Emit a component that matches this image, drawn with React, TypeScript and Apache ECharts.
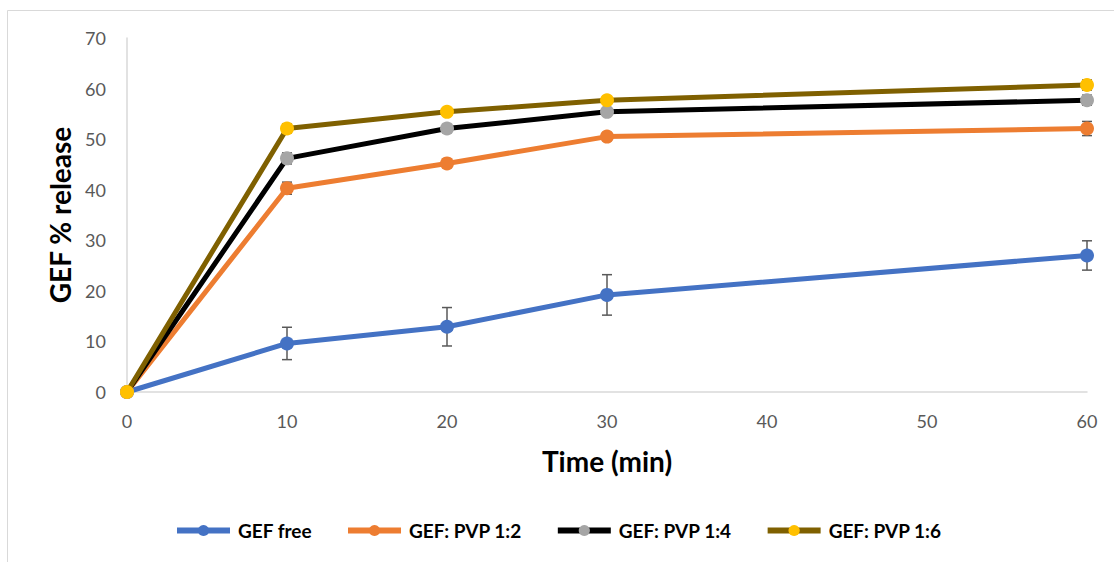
import React, { useEffect, useRef } from "react";
import * as echarts from "echarts";

const seriesNames = ["GEF free", "GEF: PVP 1:2", "GEF: PVP 1:4", "GEF: PVP 1:6"];
const timePoints = [0, 10, 20, 30, 60];
const gefFree = [0, 9.6, 12.9, 19.2, 27.0];
const gefFreeErr = [0, 3.2, 3.8, 4.0, 2.9];
const pvp12 = [0, 40.3, 45.2, 50.5, 52.1];
const pvp12Err = [0, 1.2, 0.8, 0.8, 1.4];
const pvp14 = [0, 46.2, 52.1, 55.4, 57.7];
const pvp14Err = [0, 1.1, 0.8, 0.7, 1.0];
const pvp16 = [0, 52.1, 55.4, 57.7, 60.7];
const pvp16Err = [0, 0.9, 0.7, 0.6, 1.0];

const lineColors = ["#4472C4", "#ED7D31", "#000000", "#7F6000"];
const markerColors = ["#4472C4", "#ED7D31", "#A5A5A5", "#FFC000"];

const FONT = "Lato, 'Open Sans', sans-serif";

export default function App() {
  const ref = useRef<HTMLDivElement>(null);

  useEffect(() => {
    if (!ref.current) return;
    const chart = echarts.init(ref.current, null, { renderer: "svg" });
    const values = [gefFree, pvp12, pvp14, pvp16];
    const errs = [gefFreeErr, pvp12Err, pvp14Err, pvp16Err];

    const lineSeries = values.map((vals, i) => ({
      name: seriesNames[i],
      type: "line",
      data: timePoints.map((t, j) => [t, vals[j]]),
      symbol: "circle",
      symbolSize: 14,
      showSymbol: true,
      z: 3 + i,
      lineStyle: { color: lineColors[i], width: 5 },
      itemStyle: { color: markerColors[i], borderWidth: 0 },
    }));

    const errSeries = values.map((vals, i) => ({
      name: seriesNames[i] + " err",
      type: "custom",
      z: 2 + i,
      silent: true,
      data: timePoints
        .map((t, j) => [t, vals[j] - errs[i][j], vals[j] + errs[i][j]])
        .filter((d, j) => errs[i][j] > 0),
      encode: { x: 0, y: [1, 2] },
      renderItem: (params: any, api: any) => {
        const x = api.value(0);
        const lo = api.coord([x, api.value(1)]);
        const hi = api.coord([x, api.value(2)]);
        const cw = 5;
        const style = { stroke: "#595959", lineWidth: 1.5 };
        return {
          type: "group",
          children: [
            { type: "line", shape: { x1: lo[0], y1: lo[1], x2: hi[0], y2: hi[1] }, style },
            { type: "line", shape: { x1: lo[0] - cw, y1: lo[1], x2: lo[0] + cw, y2: lo[1] }, style },
            { type: "line", shape: { x1: hi[0] - cw, y1: hi[1], x2: hi[0] + cw, y2: hi[1] }, style },
          ],
        };
      },
    }));

    chart.setOption({
      animation: false,
      backgroundColor: "#ffffff",
      graphic: [
        {
          type: "rect",
          shape: { x: 7.5, y: 10.5, width: 1200, height: 700 },
          style: { fill: "none", stroke: "#D9D9D9", lineWidth: 1 },
          silent: true,
          z: -10,
        },
      ],
      grid: { left: 127, right: 27, top: 38, bottom: 170 },
      legend: {
        data: seriesNames,
        top: 516,
        left: 169,
        itemGap: 33,
        itemWidth: 53,
        itemHeight: 14,
        lineStyle: { width: 6 },
        textStyle: {
          fontFamily: FONT,
          fontWeight: "bold",
          fontSize: 19,
          color: "#000000",
          padding: [0, 0, 0, 3],
        },
      },
      xAxis: {
        type: "value",
        min: 0,
        max: 60,
        interval: 10,
        name: "Time (min)",
        nameLocation: "middle",
        nameGap: 55,
        nameTextStyle: { fontFamily: FONT, fontWeight: "bold", fontSize: 28, color: "#000000" },
        axisLine: { show: true, lineStyle: { color: "#D9D9D9", width: 1.5 } },
        axisTick: { show: false },
        splitLine: { show: false },
        axisLabel: { fontFamily: FONT, fontSize: 18, color: "#595959", margin: 20 },
      },
      yAxis: {
        type: "value",
        min: 0,
        max: 70,
        interval: 10,
        name: "GEF % release",
        nameLocation: "middle",
        nameGap: 52,
        nameRotate: 90,
        nameTextStyle: { fontFamily: FONT, fontWeight: "bold", fontSize: 28, color: "#000000" },
        axisLine: { show: true, lineStyle: { color: "#D9D9D9", width: 1.5 } },
        axisTick: { show: false },
        splitLine: { show: false },
        axisLabel: { fontFamily: FONT, fontSize: 18, color: "#595959", margin: 21 },
      },
      series: [...errSeries, ...lineSeries],
    });

    return () => chart.dispose();
  }, []);

  return (
    <div
      ref={ref}
      style={{ position: "fixed", left: 0, top: 0, width: 1114, height: 562 }}
    />
  );
}
